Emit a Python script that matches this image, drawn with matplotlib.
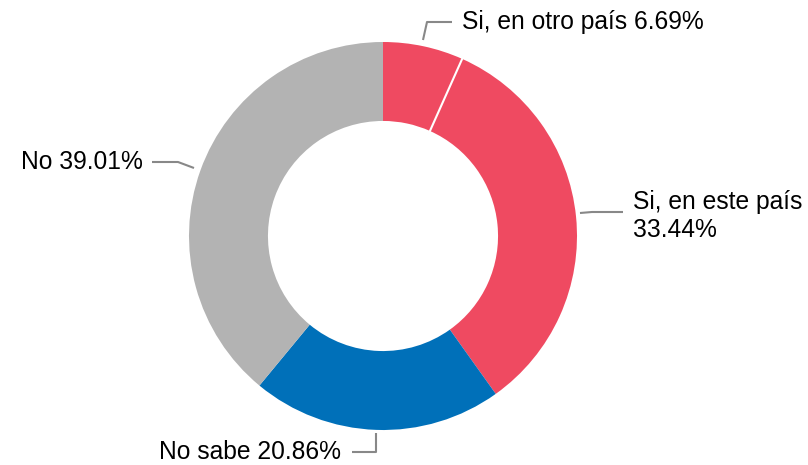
import matplotlib
matplotlib.use("Agg")
import matplotlib.pyplot as plt
import numpy as np

labels = ["Si, en otro país", "Si, en este país", "No sabe", "No"]
values = [6.69, 33.44, 20.86, 39.01]
colors = ["#EF4A61", "#EF4A61", "#0070B9", "#B3B3B3"]

plt.rcParams['font.family'] = ['Liberation Sans', 'DejaVu Sans']

W, H = 808, 465
fig = plt.figure(figsize=(W / 100, H / 100), dpi=100)
cx, cy, R = 383, 236, 194
ax = fig.add_axes([(cx - R) / W, (H - cy - R) / H, 2 * R / W, 2 * R / H])
inner = 0.593
ax.pie(values, colors=colors, startangle=90, counterclock=False, radius=1,
       wedgeprops=dict(width=1 - inner, edgecolor="none", linewidth=0))
ax.set_xlim(-1, 1)
ax.set_ylim(-1, 1)
ax.set_aspect("equal")
ax.axis("off")

# white separator between the two same-coloured slices
ang = np.deg2rad(90 - 360 * values[0] / sum(values))
ax.plot([inner * np.cos(ang), 1.01 * np.cos(ang)], [inner * np.sin(ang), 1.01 * np.sin(ang)],
        color="white", lw=1.5)

def P(px, py):
    return ((px - cx) / R, (cy - py) / R)

leaders = [
    ([(423, 40), (427, 22), (452, 22)], (462, 22), "left", f"{labels[0]} {values[0]:.2f}%"),
    ([(580, 213), (592, 212), (623, 212)], (633, 216), "left", f"{labels[1]}\n{values[1]:.2f}%"),
    ([(376, 433), (376, 452), (352, 452)], (341, 452), "right", f"{labels[2]} {values[2]:.2f}%"),
    ([(194, 168), (178, 162), (152, 162)], (143, 162), "right", f"{labels[3]} {values[3]:.2f}%"),
]
for path, tp, ha, txt in leaders:
    xs, ys = zip(*[P(*p) for p in path])
    ax.plot(xs, ys, color="#888888", lw=1.5, clip_on=False, solid_capstyle="butt")
    tx, ty = P(*tp)
    ax.text(tx, ty, txt, ha=ha, va="center", fontsize=17.7, color="#000000",
            linespacing=1.22, clip_on=False)

fig.savefig("out.png", dpi=100)
